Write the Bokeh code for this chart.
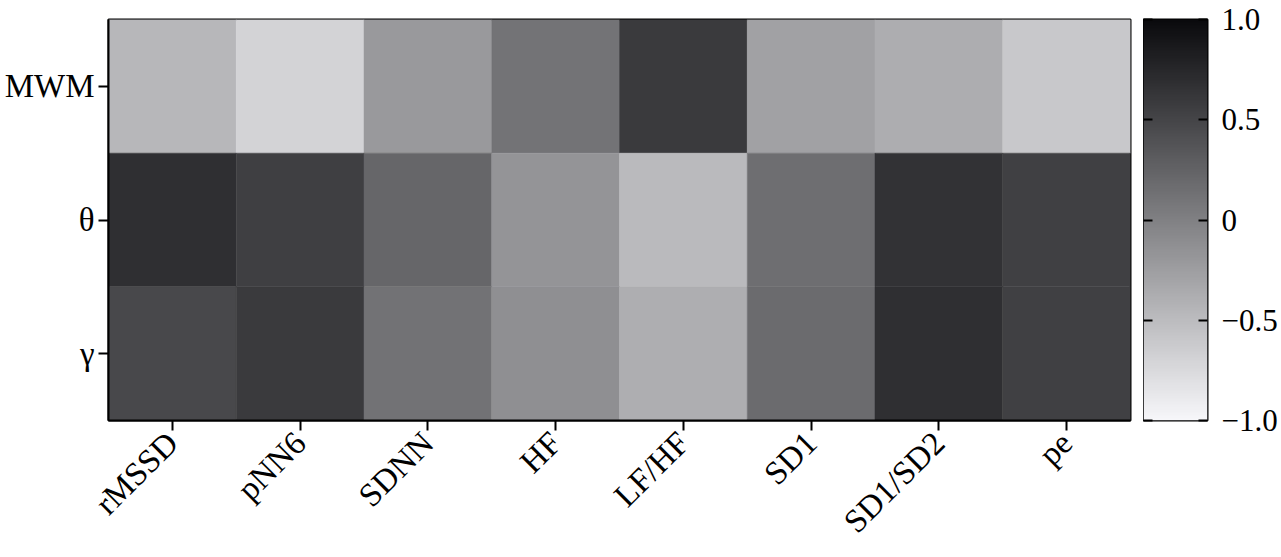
import json
import numpy as np
from bokeh.plotting import figure
from bokeh.layouts import row
from bokeh.models import (LinearColorMapper, FixedTicker, CustomJSTickFormatter, LinearAxis,
                          ColumnDataSource, FactorRange, Range1d)
from bokeh.embed import file_html
from bokeh.resources import INLINE
from math import pi

# ---- data ----
features = ["rMSSD", "pNN6", "SDNN", "HF", "LF/HF", "SD1", "SD1/SD2", "pe"]
bands = ["MWM", "θ", "γ"]
vals_MWM = [-0.46, -0.69, -0.21, 0.11, 0.59, -0.28, -0.37, -0.60]
vals_theta = [0.68, 0.55, 0.22, -0.17, -0.48, 0.15, 0.66, 0.54]
vals_gamma = [0.47, 0.59, 0.12, -0.12, -0.38, 0.18, 0.68, 0.54]
cbar_ticks = [-1.0, -0.5, 0.0, 0.5, 1.0]
cbar_labels = ["−1.0", "−0.5", "0", "0.5", "1.0"]

rows = {"MWM": vals_MWM, "θ": vals_theta, "γ": vals_gamma}
xs, ys, vs = [], [], []
for b in bands:
    for f, v in zip(features, rows[b]):
        xs.append(f); ys.append(b); vs.append(v)
src = ColumnDataSource(dict(x=xs, y=ys, v=vs))

# grayscale palette: white (-1) -> black (+1)
palette = []
for i in range(256):
    g = int(round(247 - i * (237 / 255)))
    palette.append("#%02x%02x%02x" % (g, g, min(255, g + 3)))
mapper = LinearColorMapper(palette=palette, low=-1, high=1)

FONT = "Liberation Serif"
TOP = 14
TOP_CB = 19
H = 556
p = figure(width=1143, height=H, x_range=FactorRange(*features),
           y_range=FactorRange(*reversed(bands)), output_backend="svg",
           toolbar_location=None, min_border_left=108, min_border_top=TOP,
           min_border_bottom=H - 420, min_border_right=13)
p.rect(x="x", y="y", width=1, height=1, source=src,
       fill_color={"field": "v", "transform": mapper},
       line_color={"field": "v", "transform": mapper}, line_width=0.5)

p.grid.visible = False
p.outline_line_color = "black"
p.outline_line_width = 2
for ax in (p.xaxis, p.yaxis):
    ax.axis_line_width = 2
    ax.axis_line_color = "black"
    ax.major_tick_line_width = 2
    ax.major_tick_line_color = "black"
    ax.major_tick_out = 10
    ax.major_tick_in = 0
    ax.major_label_text_font = FONT
    ax.major_label_text_font_size = "33px"
    ax.major_label_text_color = "black"
    ax.major_label_standoff = 4
p.xaxis.major_label_orientation = pi / 4
p.xaxis.major_label_standoff = 7

# ---- colour bar as its own small figure ----
label_map = {str(int(t)) if t == int(t) else str(t): l for t, l in zip(cbar_ticks, cbar_labels)}
fmt = CustomJSTickFormatter(code="const m = %s; const k = String(tick); return (k in m) ? m[k] : k;"
                            % json.dumps(label_map, ensure_ascii=False))

cbf = figure(width=137, height=H, x_range=Range1d(0, 1), y_range=Range1d(-1, 1),
             output_backend="svg", toolbar_location=None, x_axis_location=None,
             y_axis_location=None, min_border_left=0, min_border_right=73,
             min_border_top=TOP_CB, min_border_bottom=H - 424)
grad = np.linspace(-1, 1, 256).reshape(256, 1)
cbf.image(image=[grad], x=0, y=-1, dw=1, dh=2, color_mapper=mapper)
cbf.grid.visible = False
cbf.outline_line_color = "black"
cbf.outline_line_width = 2

ax_r = LinearAxis(ticker=FixedTicker(ticks=cbar_ticks), formatter=fmt,
                  axis_line_color=None, major_tick_in=9, major_tick_out=0,
                  major_tick_line_width=2, major_tick_line_color="black",
                  minor_tick_line_color=None, major_label_standoff=14,
                  major_label_text_font=FONT, major_label_text_font_size="31px",
                  major_label_text_color="black")
ax_l = LinearAxis(ticker=FixedTicker(ticks=cbar_ticks),
                  formatter=CustomJSTickFormatter(code="return '';"),
                  axis_line_color=None, major_tick_in=9, major_tick_out=0,
                  major_tick_line_width=2, major_tick_line_color="black",
                  minor_tick_line_color=None, major_label_standoff=0,
                  major_label_text_font_size="1px")
cbf.add_layout(ax_r, "right")
cbf.add_layout(ax_l, "left")

layout = row(p, cbf, spacing=0)
open("out.html", "w").write(file_html(layout, INLINE))
